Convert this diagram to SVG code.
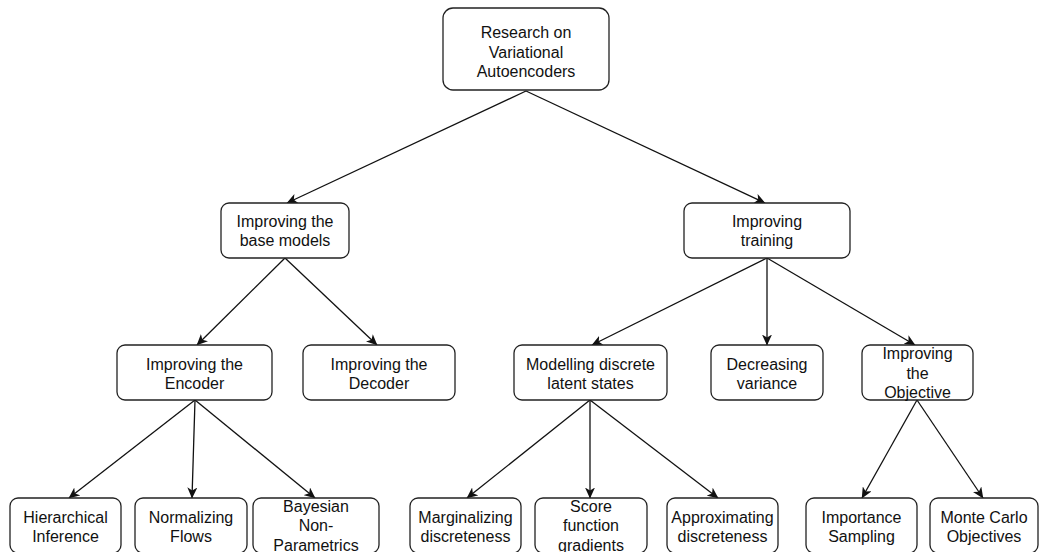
<svg xmlns="http://www.w3.org/2000/svg" width="1040" height="552" viewBox="0 0 1040 552">
<style>
.box{fill:#fff;stroke:#222;stroke-width:1.3}
.t{font-family:"Liberation Sans",Arial,sans-serif;font-size:16px;fill:#111;text-anchor:middle}
.c line{stroke:#111;stroke-width:1.3;marker-end:url(#ah)}
</style>
<defs>
<marker id="ah" markerUnits="userSpaceOnUse" markerWidth="12" markerHeight="10" refX="10.5" refY="5" orient="auto">
<path d="M0,0 L11,5 L0,10 L3,5 z" fill="#111"/>
</marker>
</defs>
<rect width="1040" height="552" fill="#fff"/>
<g class="c" id="connectors">
<line x1="526" y1="91" x2="287" y2="203"/>
<line x1="526" y1="91" x2="765" y2="203"/>
<line x1="285" y1="258" x2="197" y2="345"/>
<line x1="285" y1="258" x2="377" y2="345"/>
<line x1="767" y1="258" x2="592" y2="345"/>
<line x1="767" y1="258" x2="767" y2="345"/>
<line x1="767" y1="258" x2="915" y2="345"/>
<line x1="195" y1="400" x2="69" y2="498"/>
<line x1="195" y1="400" x2="192" y2="498"/>
<line x1="195" y1="400" x2="315" y2="498"/>
<line x1="590" y1="400" x2="467" y2="498"/>
<line x1="590" y1="400" x2="590" y2="498"/>
<line x1="590" y1="400" x2="718" y2="498"/>
<line x1="917" y1="400" x2="862" y2="498"/>
<line x1="917" y1="400" x2="983" y2="498"/>
</g>
<g id="root"><rect class="box" x="443" y="8" width="166" height="82" rx="10"/>
<text class="t" x="526" y="38">Research on</text><text class="t" x="526" y="57.5">Variational</text><text class="t" x="526" y="77">Autoencoders</text></g>
<g id="base"><rect class="box" x="221" y="203" width="128" height="55" rx="8"/>
<text class="t" x="285" y="227">Improving the</text><text class="t" x="285" y="246">base models</text></g>
<g id="training"><rect class="box" x="684" y="203" width="166" height="55" rx="8"/>
<text class="t" x="767" y="227">Improving</text><text class="t" x="767" y="246">training</text></g>
<g id="encoder"><rect class="box" x="117" y="345" width="155" height="55" rx="8"/>
<text class="t" x="194.5" y="369.5">Improving the</text><text class="t" x="194.5" y="389">Encoder</text></g>
<g id="decoder"><rect class="box" x="303" y="345" width="152" height="55" rx="8"/>
<text class="t" x="379" y="369.5">Improving the</text><text class="t" x="379" y="389">Decoder</text></g>
<g id="discrete"><rect class="box" x="514" y="345" width="153" height="55" rx="8"/>
<text class="t" x="590.5" y="369.5">Modelling discrete</text><text class="t" x="590.5" y="389">latent states</text></g>
<g id="variance"><rect class="box" x="711" y="345" width="112" height="55" rx="8"/>
<text class="t" x="767" y="369.5">Decreasing</text><text class="t" x="767" y="389">variance</text></g>
<g id="objective"><rect class="box" x="862" y="345" width="111" height="55" rx="8"/>
<text class="t" x="917.5" y="359">Improving</text><text class="t" x="917.5" y="378.5">the</text><text class="t" x="917.5" y="398">Objective</text></g>
<g id="hier"><rect class="box" x="10" y="498" width="111" height="55" rx="8"/>
<text class="t" x="65.5" y="522.5">Hierarchical</text><text class="t" x="65.5" y="542">Inference</text></g>
<g id="flows"><rect class="box" x="135" y="498" width="112" height="55" rx="8"/>
<text class="t" x="191" y="522.5">Normalizing</text><text class="t" x="191" y="542">Flows</text></g>
<g id="bayes"><rect class="box" x="253" y="498" width="126" height="55" rx="8"/>
<text class="t" x="316" y="512">Bayesian</text><text class="t" x="316" y="531">Non-</text><text class="t" x="316" y="550.5">Parametrics</text></g>
<g id="marg"><rect class="box" x="410" y="498" width="111" height="55" rx="8"/>
<text class="t" x="465.5" y="522.5">Marginalizing</text><text class="t" x="465.5" y="542">discreteness</text></g>
<g id="score"><rect class="box" x="535" y="498" width="112" height="55" rx="8"/>
<text class="t" x="591" y="512">Score</text><text class="t" x="591" y="531">function</text><text class="t" x="591" y="550.5">gradients</text></g>
<g id="approx"><rect class="box" x="667" y="498" width="111" height="55" rx="8"/>
<text class="t" x="722.5" y="522.5">Approximating</text><text class="t" x="722.5" y="542">discreteness</text></g>
<g id="importance"><rect class="box" x="806" y="498" width="111" height="55" rx="8"/>
<text class="t" x="861.5" y="522.5">Importance</text><text class="t" x="861.5" y="542">Sampling</text></g>
<g id="montecarlo"><rect class="box" x="930" y="498" width="108" height="55" rx="8"/>
<text class="t" x="984" y="522.5">Monte Carlo</text><text class="t" x="984" y="542">Objectives</text></g>
</svg>
